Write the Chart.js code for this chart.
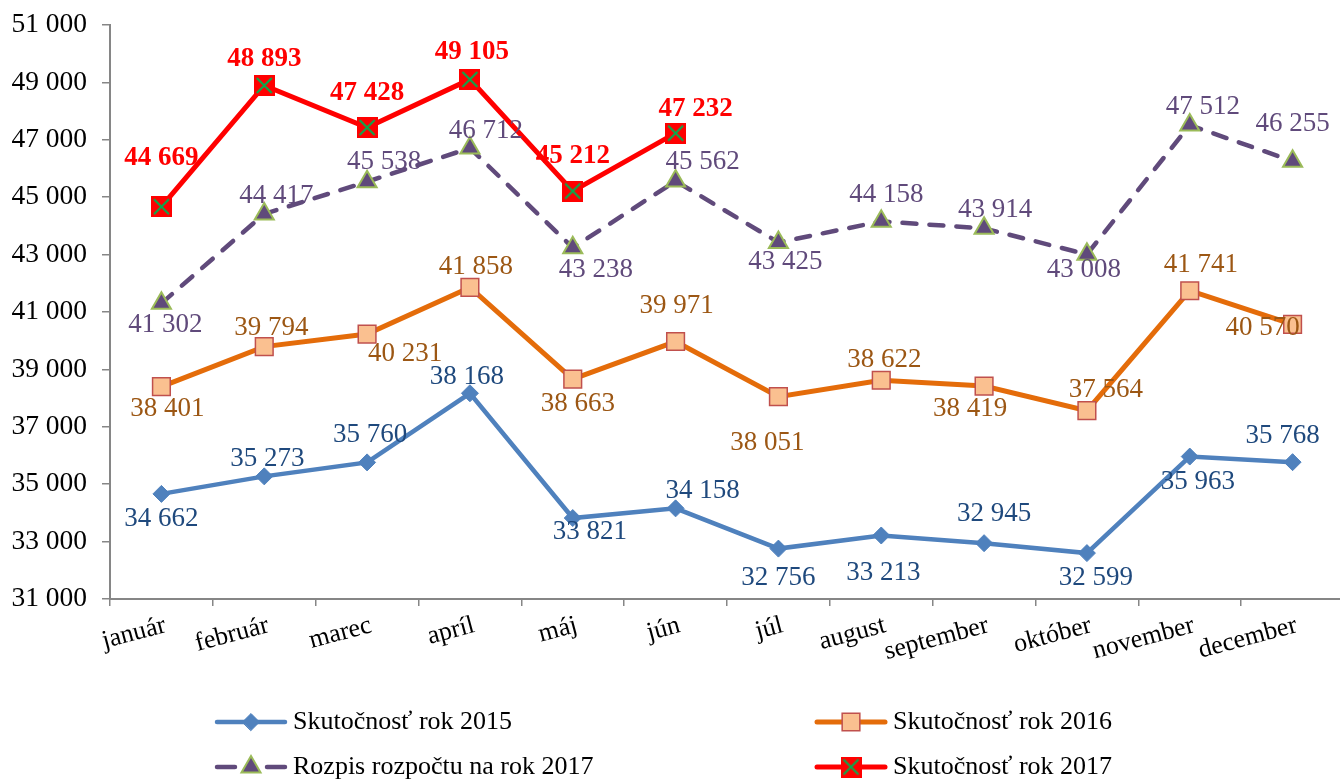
<!DOCTYPE html>
<html>
<head>
<meta charset="utf-8">
<script src="https://cdn.jsdelivr.net/npm/chart.js@4.4.0/dist/chart.umd.min.js"></script>
<style>
    html, body { margin: 0; padding: 0; background: #fff; overflow: hidden; }
    #chart { display: block; }
</style>
</head>
<body>
<!-- plot area runs a few px past the right window edge, like the source image -->
<canvas id="chart" width="1358" height="781"></canvas>
<script>
// ===== Data =====
const months = ['január', 'február', 'marec', 'apríl', 'máj', 'jún', 'júl', 'august', 'september', 'október', 'november', 'december'];

const actual2015 = [34662, 35273, 35760, 38168, 33821, 34158, 32756, 33213, 32945, 32599, 35963, 35768];
const actual2016 = [38401, 39794, 40231, 41858, 38663, 39971, 38051, 38622, 38419, 37564, 41741, 40570];
const budget2017 = [41302, 44417, 45538, 46712, 43238, 45562, 43425, 44158, 43914, 43008, 47512, 46255];
const actual2017 = [44669, 48893, 47428, 49105, 45212, 47232, null, null, null, null, null, null];

const yMin = 31000;
const yMax = 51000;
const yStep = 2000;

// label offsets [dx, dy] from the point, per series
const offs2015 = [[0, 25], [3, -17], [3, -27], [-3, -16], [17, 14], [27, -17], [0, 29], [2, 37], [10, -29], [9, 25], [8, 25], [-10, -26]];
const offs2016 = [[6, 22], [7, -19], [38, 20], [6, -20], [5, 25], [1, -36], [-11, 46], [3, -20], [-14, 23], [19, -21], [11, -26], [-30, 4]];
const offsBudget = [[4, 22], [12, -18], [17, -20], [16, -17], [23, 22], [27, -19], [7, 20], [5, -26], [11, -18], [-3, 16], [13, -18], [0, -37]];
const offs2017 = [[0, -49], [0, -26], [0, -34], [2, -27], [0, -35], [20, -24]];

const FONT = "'Liberation Serif', 'Times New Roman', serif";
const FS = 27;

function fmt(v) {
    return String(v).replace(/\B(?=(\d{3})+(?!\d))/g, ' ');
}

// red square with green cross marker
function crossSquare() {
    const c = document.createElement('canvas');
    c.width = 21; c.height = 21;
    const g = c.getContext('2d');
    g.fillStyle = '#ff0000';
    g.fillRect(0, 0, 21, 21);
    g.strokeStyle = '#00b050';
    g.lineWidth = 2;
    g.beginPath();
    g.moveTo(3, 3); g.lineTo(18, 18);
    g.moveTo(18, 3); g.lineTo(3, 18);
    g.stroke();
    return c;
}
const crossImg = crossSquare();

// ===== Plugins =====
const valueLabels = {
    id: 'valueLabels',
    afterDatasetsDraw(chart) {
        const ctx = chart.ctx;
        ctx.save();
        ctx.textAlign = 'center';
        ctx.textBaseline = 'middle';
        chart.data.datasets.forEach((ds, i) => {
            const meta = chart.getDatasetMeta(i);
            ctx.font = (ds.labelBold ? 'bold ' : '') + FS + 'px ' + FONT;
            ctx.fillStyle = ds.labelColor;
            meta.data.forEach((pt, j) => {
                const v = ds.data[j];
                if (v == null) return;
                const o = ds.labelOffsets[j] || [0, -20];
                ctx.fillText(fmt(v), pt.x + o[0], pt.y + o[1]);
            });
        });
        ctx.restore();
    }
};

const bottomLegend = {
    id: 'bottomLegend',
    afterDraw(chart) {
        const ctx = chart.ctx;
        const slots = [[215, 722], [815, 722], [215, 767], [815, 767]];
        chart.data.datasets.forEach((ds) => {
            const [x, y] = slots[ds.legendSlot];
            ctx.save();
            ctx.strokeStyle = ds.borderColor;
            ctx.lineWidth = ds.borderWidth;
            ctx.lineCap = 'round';
            ctx.beginPath();
            if (ds.borderDash) {
                ctx.moveTo(x + 2, y); ctx.lineTo(x + 20, y);
                ctx.moveTo(x + 52, y); ctx.lineTo(x + 70, y);
            } else {
                ctx.moveTo(x + 2, y); ctx.lineTo(x + 70, y);
            }
            ctx.stroke();
            ctx.fillStyle = ds.pointBackgroundColor;
            ctx.strokeStyle = ds.pointBorderColor;
            ctx.lineWidth = ds.pointBorderWidth;
            Chart.helpers.drawPoint(ctx, {
                pointStyle: ds.pointStyle,
                radius: ds.pointRadius,
                rotation: 0,
                borderWidth: ds.pointBorderWidth
            }, x + 36, y);
            ctx.fillStyle = '#000';
            ctx.font = '26px ' + FONT;
            ctx.textAlign = 'left';
            ctx.textBaseline = 'middle';
            ctx.fillText(ds.label, x + 78, y);
            ctx.restore();
        });
    }
};

// ===== Chart =====
const axisGrey = '#868686';

const chart = new Chart(document.getElementById('chart').getContext('2d'), {
    type: 'line',
    data: {
        labels: months,
        datasets: [
            {
                label: 'Skutočnosť rok 2017',
                data: actual2017,
                borderColor: '#ff0000',
                borderWidth: 5,
                pointStyle: crossImg,
                pointRadius: 10,
                pointBackgroundColor: '#ff0000',
                pointBorderColor: '#ff0000',
                pointBorderWidth: 0,
                labelColor: '#ff0000',
                labelBold: true,
                labelOffsets: offs2017,
                legendSlot: 3,
                order: 0
            },
            {
                label: 'Rozpis rozpočtu na rok 2017',
                data: budget2017,
                borderColor: '#604a7b',
                borderWidth: 4.5,
                borderDash: [14, 13],
                borderCapStyle: 'round',
                pointStyle: 'triangle',
                pointRadius: 11,
                pointBackgroundColor: '#604a7b',
                pointBorderColor: '#9bbb59',
                pointBorderWidth: 2,
                labelColor: '#604a7b',
                labelOffsets: offsBudget,
                legendSlot: 2,
                order: 1
            },
            {
                label: 'Skutočnosť rok 2016',
                data: actual2016,
                borderColor: '#e46c0a',
                borderWidth: 5,
                pointStyle: 'rect',
                pointRadius: 12.5,
                pointBackgroundColor: '#fac090',
                pointBorderColor: '#c0504d',
                pointBorderWidth: 1.5,
                labelColor: '#9c5714',
                labelOffsets: offs2016,
                legendSlot: 1,
                order: 2
            },
            {
                label: 'Skutočnosť rok 2015',
                data: actual2015,
                borderColor: '#4f81bd',
                borderWidth: 4.5,
                pointStyle: 'rectRot',
                pointRadius: 8.5,
                pointBackgroundColor: '#4f81bd',
                pointBorderColor: '#4f81bd',
                pointBorderWidth: 1,
                labelColor: '#1f497d',
                labelOffsets: offs2015,
                legendSlot: 0,
                order: 3
            }
        ]
    },
    options: {
        responsive: false,
        animation: false,
        layout: { padding: { top: 25, right: 0, left: 0, bottom: 0 } },
        plugins: {
            legend: { display: false },
            tooltip: { enabled: false }
        },
        elements: { line: { tension: 0 } },
        scales: {
            x: {
                offset: true,
                afterFit: (s) => { s.height = 182; },
                grid: {
                    display: true,
                    drawOnChartArea: false,
                    offset: true,
                    tickLength: 7,
                    color: axisGrey,
                    lineWidth: 1.5
                },
                border: { color: axisGrey, width: 2 },
                ticks: {
                    color: '#000',
                    font: { family: FONT, size: 26 },
                    minRotation: 15,
                    maxRotation: 15,
                    padding: 4,
                    labelOffset: 4,
                    autoSkip: false
                }
            },
            y: {
                min: yMin,
                max: yMax,
                afterFit: (s) => { s.width = 110; },
                grid: {
                    display: true,
                    drawOnChartArea: false,
                    tickLength: 8,
                    color: axisGrey,
                    lineWidth: 1.5
                },
                border: { color: axisGrey, width: 2 },
                ticks: {
                    stepSize: yStep,
                    color: '#000',
                    // small lineHeight keeps the top label from pushing the plot down
                    font: { family: FONT, size: 27.5, lineHeight: 0.6 },
                    padding: 15,
                    callback: (v) => fmt(v)
                }
            }
        }
    },
    plugins: [valueLabels, bottomLegend]
});
</script>
</body>
</html>
